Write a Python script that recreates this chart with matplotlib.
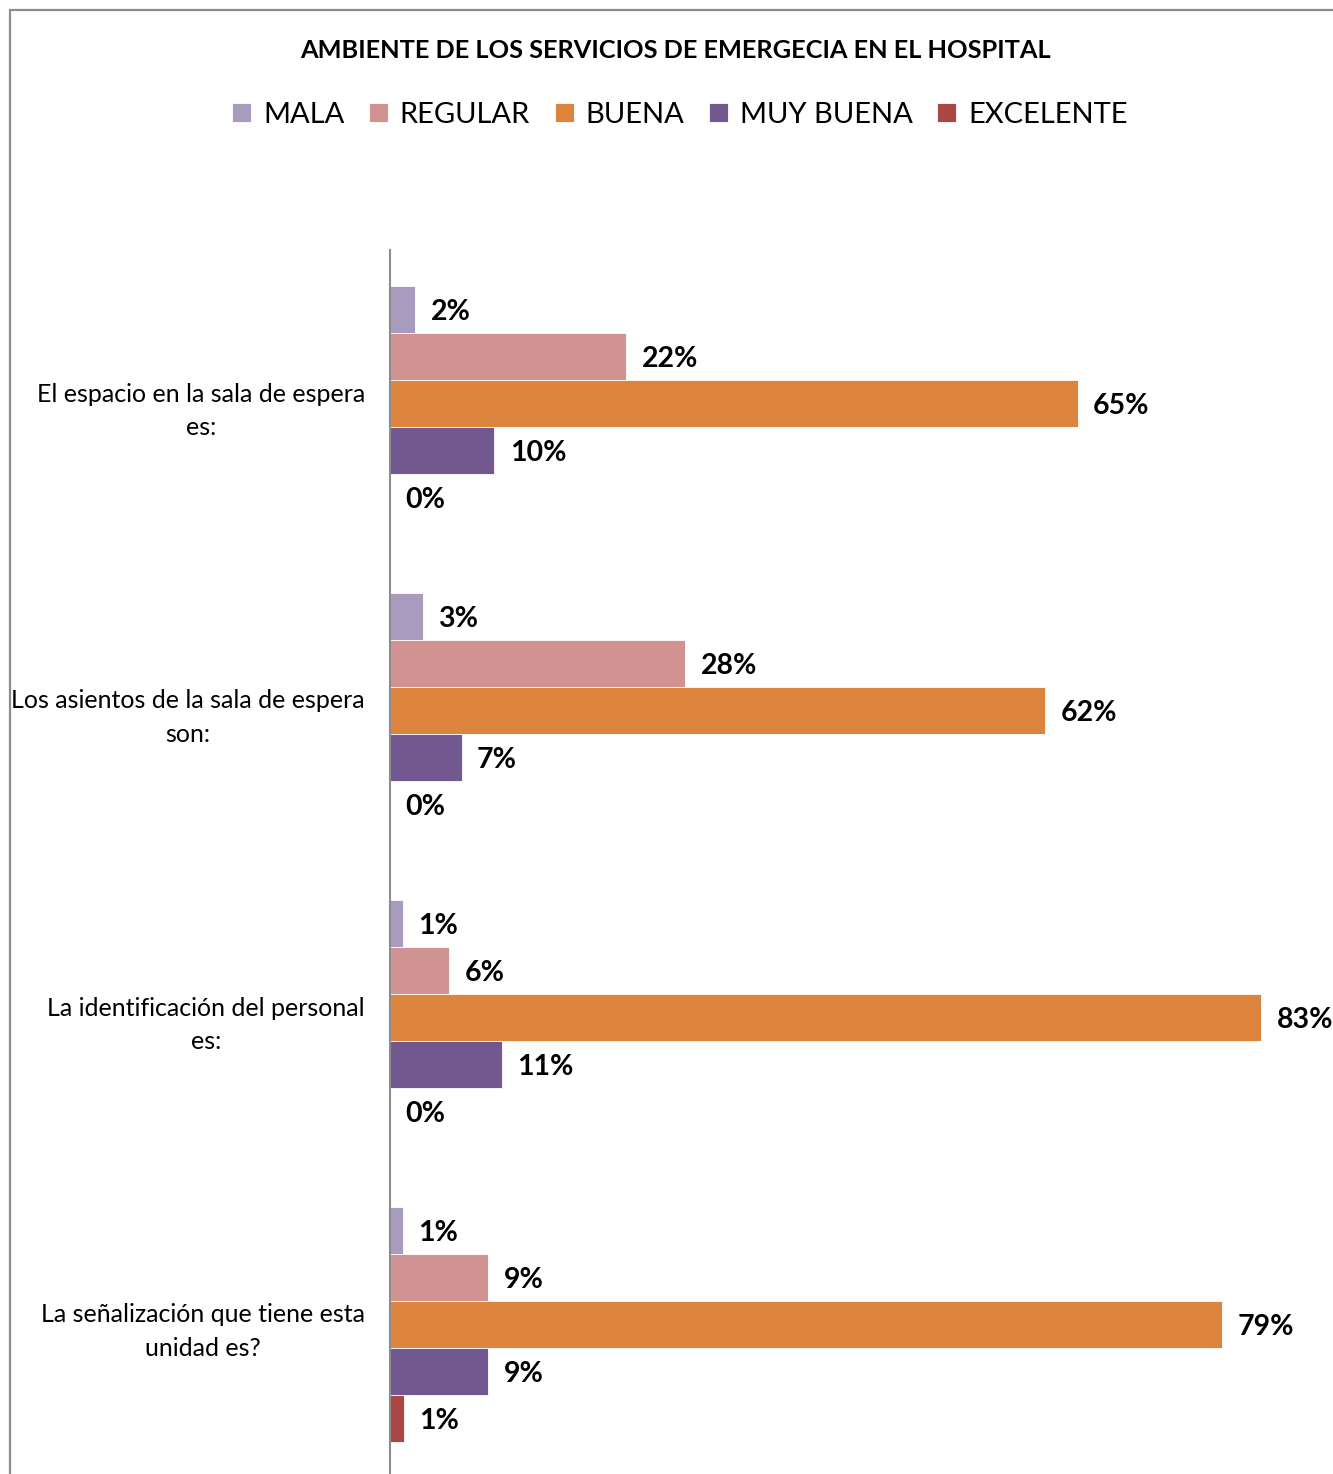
import numpy as np
import matplotlib.pyplot as plt
from matplotlib.patches import Rectangle

plt.rcParams['font.family'] = ['Lato', 'DejaVu Sans']

# datos (porcentajes)
categorias = [
    "El espacio en la sala de espera\nes:",
    "Los asientos de la sala de espera\nson:",
    "La identificación del personal\nes:",
    "La señalización que tiene esta\nunidad es?",
]
series = ["MALA", "REGULAR", "BUENA", "MUY BUENA", "EXCELENTE"]
mala = [2.4, 3.1, 1.2, 1.2]
regular = [22.4, 28.0, 5.6, 9.3]
buena = [65.2, 62.1, 82.6, 78.9]
muy_buena = [9.9, 6.8, 10.6, 9.3]
excelente = [0.0, 0.0, 0.0, 1.3]
colores = ["#A99BBD", "#D19292", "#DD843F", "#71588F", "#AA4644"]

valores = [mala, regular, buena, muy_buena, excelente]

W, H = 1333, 1474
fig = plt.figure(figsize=(W / 100, H / 100), dpi=100)

# borde gris del grafico
fig.patches.append(Rectangle((10 / W, -0.05), 1.1, 1 - 10 / H + 0.05,
                             transform=fig.transFigure, fill=False,
                             edgecolor="#8c8c8c", linewidth=1.6))

ax = fig.add_axes([390 / W, -4 / H, 943 / W, 1228 / H])

y = np.arange(len(categorias))
alto = 0.153
for i, (nombre, vals) in enumerate(zip(series, valores)):
    pos = y + (i - 2) * alto
    barras = ax.barh(pos, vals, height=alto, color=colores[i], label=nombre,
                     edgecolor="white", linewidth=0.6)
    for p, v in zip(pos, vals):
        ax.annotate(f"{round(v)}%", (v, p), xytext=(11, -2),
                    textcoords="offset points", ha="left", va="center",
                    fontsize=20.5, fontweight="bold", color="black")

ax.set_xlim(0, 943 / 10.55)
ax.set_ylim(3.5, -0.5)
ax.set_xticks([])
ax.set_yticks(y)
ax.set_yticklabels(categorias, fontsize=18, multialignment="center",
                   linespacing=1.55)
ax.tick_params(axis="y", length=0, pad=18)
for s in ["top", "right", "bottom"]:
    ax.spines[s].set_visible(False)
ax.spines["left"].set_color("#8c8c8c")
ax.spines["left"].set_linewidth(1.5)

fig.text(675 / W, 1 - 50 / H, "AMBIENTE DE LOS SERVICIOS DE EMERGECIA EN EL HOSPITAL",
         ha="center", va="center", fontsize=18.3, fontweight="bold")

fig.legend(loc="center", bbox_to_anchor=(680 / W, 1 - 115 / H), ncol=5,
           frameon=False, fontsize=21, handlelength=0.65, handleheight=0.65,
           handletextpad=0.4, columnspacing=0.85)

fig.savefig("out.png", dpi=100)
